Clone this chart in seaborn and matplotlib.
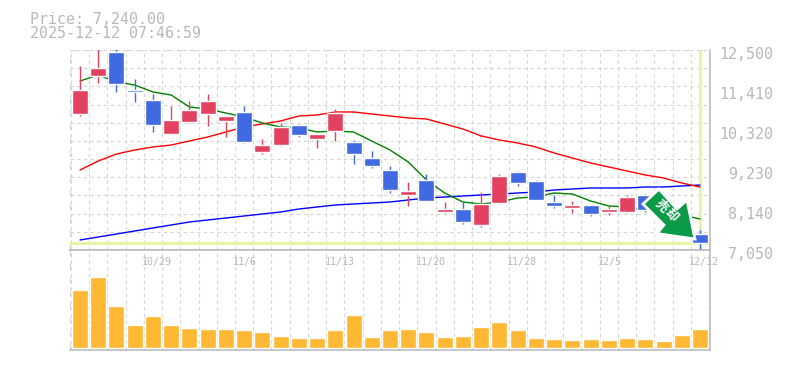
import numpy as np
import pandas as pd
import matplotlib
matplotlib.use('Agg')
import matplotlib.pyplot as plt
import matplotlib.transforms as mtrans
from matplotlib.patches import Polygon
import seaborn as sns

# chart values
open_prices = [10756, 11792, 12445, 11410, 11138, 10211, 10538, 10756, 10565, 10811, 9721, 9911,
               10456, 10075, 10293, 9993, 9557, 9230, 8549, 8958, 8085, 8167, 7731, 8331,
               9175, 8930, 8358, 8195, 8276, 8085, 8085, 8549, 8413, 8000, 7486]
high_prices = [12064, 12600, 12600, 11710, 11301, 10974, 11110, 11301, 10702, 10974, 10075, 10511,
               10484, 10211, 10892, 10048, 9748, 9339, 8903, 9121, 8358, 8358, 8630, 9121,
               9203, 8958, 8549, 8385, 8276, 8249, 8549, 8576, 8494, 8300, 7595]
low_prices = [10702, 11601, 11356, 11083, 10266, 10211, 10511, 10429, 10129, 9966, 9666, 9884,
              10129, 9830, 10020, 9394, 9285, 8603, 8249, 8385, 8058, 7759, 7677, 8304,
              8794, 8413, 8195, 8058, 7977, 8004, 8058, 8085, 7950, 7900, 7030]
close_prices = [11410, 12010, 11574, 11356, 10456, 10593, 10865, 11110, 10702, 9993, 9911, 10402,
                10184, 10211, 10783, 9666, 9339, 8685, 8658, 8385, 8167, 7813, 8304, 9067,
                8876, 8413, 8249, 8276, 8031, 8167, 8494, 8140, 8085, 8250, 7240]
ma_short = [11655, 11819, 11628, 11546, 11356, 11274, 10947, 10892, 10783, 10674, 10511, 10402,
            10375, 10266, 10293, 10266, 10020, 9775, 9448, 8958, 8603, 8358, 8304, 8358,
            8467, 8494, 8603, 8576, 8385, 8249, 8222, 8140, 8085, 8004, 7895]
ma_mid = [9230, 9475, 9666, 9775, 9857, 9911, 10020, 10129, 10266, 10402, 10484, 10565,
          10702, 10729, 10811, 10811, 10756, 10702, 10647, 10620, 10484, 10347, 10157, 10048,
          9966, 9857, 9693, 9557, 9421, 9312, 9203, 9094, 9012, 8876, 8767]
ma_long = [7323, 7404, 7486, 7568, 7650, 7731, 7813, 7868, 7922, 7977, 8031, 8085,
           8167, 8222, 8276, 8304, 8331, 8358, 8413, 8467, 8494, 8522, 8549, 8576,
           8603, 8630, 8685, 8712, 8740, 8740, 8740, 8767, 8767, 8794, 8821]
volumes = [58, 71, 42, 23, 32, 23, 20, 19, 19, 18, 16, 12, 10, 10, 18, 33, 11, 18,
           19, 16, 11, 12, 21, 26, 18, 10, 9, 8, 9, 8, 10, 9, 7, 13, 19]
date_labels = {4: '10/29', 9: '11/6', 14: '11/13', 19: '11/20', 24: '11/28', 29: '12/5', 34: '12/12'}
price_labels = ['12,500', '11,410', '10,320', '9,230', '8,140', '7,050']
current_price = 7240

RED = '#e2425f'
BLUE = '#4169e1'
GRID = '#d4d4d4'
TEXT = '#b8b8b8'
HIGHLIGHT = '#e4f5a5'
FONT = 'DejaVu Sans Mono'

sns.set_theme(style='white')
plt.rcParams['font.family'] = FONT

df = pd.DataFrame({'open': open_prices, 'high': high_prices, 'low': low_prices, 'close': close_prices,
                   'ma_short': ma_short, 'ma_mid': ma_mid, 'ma_long': ma_long, 'volume': volumes})
df['day'] = range(len(df))

W, H = 785, 370
fig = plt.figure(figsize=(W / 100, H / 100), dpi=100, facecolor='white')
# axes boxes in pixels: left 70, right 710, price 50-250, volume 250-350
ax = fig.add_axes([70 / W, 1 - 250 / H, 640 / W, 200 / H])
ax_vol = fig.add_axes([70 / W, 1 - 350 / H, 640 / W, 100 / H])
xlim = (-0.55, 34.55)
DASH = (0, (3, 3))
GRID_LW = 0.8


def style_axes(a):
    a.set_xlim(*xlim)
    a.set_xticks(np.arange(-0.5, 34.6, 1))
    a.grid(axis='x', color=GRID, ls=DASH, lw=GRID_LW)
    a.set_axisbelow(True)
    a.tick_params(left=False, bottom=False, labelleft=False, labelbottom=False)
    a.set_xlabel('')
    a.set_ylabel('')
    for side in a.spines:
        a.spines[side].set_color(TEXT)
        a.spines[side].set_linewidth(1.1)
    a.spines['left'].set_visible(False)
    a.axvline(xlim[0], color=GRID, ls=DASH, lw=GRID_LW * 2, zorder=0)


# price panel
ax.set_ylim(7050, 12500)
ax.set_yticks(np.linspace(7050, 12500, 12))
ax.grid(axis='y', color=GRID, ls=DASH, lw=GRID_LW)
style_axes(ax)
ax.spines['top'].set_visible(False)
ax.axhline(12500, color=GRID, ls=DASH, lw=GRID_LW * 2, zorder=0)

ax.axhline(current_price, color=HIGHLIGHT, lw=2.2, zorder=1)
ax.axvline(df['day'].iloc[-1], color=HIGHLIGHT, lw=2.2, zorder=1)

for name, col in [('ma_long', 'blue'), ('ma_mid', 'red'), ('ma_short', 'green')]:
    sns.lineplot(data=df, x='day', y=name, color=col, lw=1, ax=ax, zorder=2, errorbar=None)
ax.set_xlabel('')
ax.set_ylabel('')

colors = np.where(df['close'] >= df['open'], RED, BLUE)
ax.vlines(df['day'], df['low'], df['high'], colors=colors, lw=1.0, zorder=3)
ax.bar(df['day'], (df['close'] - df['open']).abs(), bottom=df[['open', 'close']].min(axis=1),
       width=16 / 18.24, color=colors, zorder=3)

# price labels sit 3px below their gridline, just right of the frame
label_trans = mtrans.blended_transform_factory(ax.transAxes, ax.transData)
for txt, val in zip(price_labels, np.linspace(12500, 7050, 6)):
    ax.annotate(txt, xy=(1, val), xycoords=label_trans, xytext=(773 - 710, -4.2), textcoords='offset pixels',
                ha='right', va='center', color=TEXT, fontsize=10.8, annotation_clip=False)

# green signal arrow, placed relative to the last candle
tip = ax.transData.transform((df['day'].iloc[-1], current_price))
arrow_px = np.array([[-5, 4], [-43, 9.5], [-36, 18], [-57, 39], [-41, 54], [-23, 34], [-13, 43]])
pts = fig.transFigure.inverted().transform(tip + arrow_px)
fig.add_artist(Polygon(pts, closed=True, transform=fig.transFigure, facecolor='#0a9a48',
                       edgecolor='white', lw=2, zorder=5))
for ch, off in [('売', (-39, 37)), ('却', (-28.5, 27.5))]:
    fx, fy = fig.transFigure.inverted().transform(tip + np.array(off))
    fig.text(fx, fy, ch, color='white', fontsize=9, rotation=-45, rotation_mode='anchor', ha='center', va='center',
             family=['Noto Sans CJK JP', 'DejaVu Sans'], weight='bold', zorder=6)

# volume panel
ax_vol.set_ylim(-2, 98)
sns.barplot(data=df, x='day', y='volume', native_scale=True, color='#ffb833', saturation=1, width=16 / 18.24, ax=ax_vol, zorder=2)
style_axes(ax_vol)
date_trans = mtrans.blended_transform_factory(ax_vol.transData, ax_vol.transAxes)
for day, txt in date_labels.items():
    ax_vol.annotate(txt, xy=(day, 0.88), xycoords=date_trans, xytext=(-11, 0), textcoords='offset pixels',
                    ha='left', va='center', color=TEXT, fontsize=7.2, annotation_clip=False, zorder=4)

fig.text(30 / W, 1 - 19 / H, 'Price: 7,240.00', color=TEXT, fontsize=10.8, va='center')
fig.text(30 / W, 1 - 34 / H, '2025-12-12 07:46:59', color=TEXT, fontsize=10.8, va='center')

fig.savefig('out.png', dpi=100, facecolor='white')
